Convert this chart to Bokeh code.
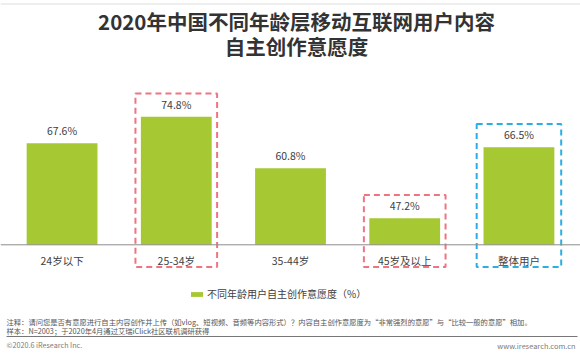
from bokeh.plotting import figure
from bokeh.models import (FactorRange, Range1d, Label, BoxAnnotation, Span,
                          ColumnDataSource, Legend, LegendItem)
from bokeh.core.properties import value
from bokeh.embed import file_html
from bokeh.resources import INLINE

# ---------------- data ----------------
categories = ["24岁以下", "25-34岁", "35-44岁", "45岁及以上", "整体用户"]
values = [67.6, 74.8, 60.8, 47.2, 66.5]
value_labels = ["67.6%", "74.8%", "60.8%", "47.2%", "66.5%"]
highlight_red = ["25-34岁", "45岁及以上"]
highlight_blue = ["整体用户"]
series_name = "不同年龄用户自主创作意愿度（%）"
title_lines = ["2020年中国不同年龄层移动互联网用户内容", "自主创作意愿度"]
note_lines = [
    "注释：请问您是否有意愿进行自主内容创作并上传（如vlog、短视频、音频等内容形式）？内容自主创作意愿度为“非常强烈的意愿”与“比较一般的意愿”相加。",
    "样本：N=2003；于2020年4月通过艾瑞iClick社区联机调研获得",
]
footer_left = "©2020.6 iResearch Inc."
footer_right = "www.iresearch.com.cn"

# ---------------- layout / style ----------------
W, H = 580, 355
FONT = "Noto Sans CJK SC"
GREEN = "#a6c832"
RED = "#ee7480"
BLUE = "#2daee2"
TXT = "#404040"
Y0 = 40.0          # value at the baseline
BASE_PX = 244.3    # baseline pixel row (from top)
SCALE = 3.68       # pixels per unit


def y_of_px(py):
    return Y0 - (py - BASE_PX) / SCALE


p = figure(width=W, height=H, output_backend="svg", toolbar_location=None,
           x_range=FactorRange(factors=categories, range_padding=0.039,
                               range_padding_units="absolute"),
           y_range=Range1d(y_of_px(H), y_of_px(0)),
           x_axis_location=None, y_axis_location=None,
           min_border=0, min_border_left=0, min_border_right=0,
           min_border_top=0, min_border_bottom=0)
p.title.visible = False
p.outline_line_color = None
p.xgrid.visible = False
p.ygrid.visible = False
p.background_fill_color = "white"
p.border_fill_color = "white"

src = ColumnDataSource(dict(cat=categories, val=values, lab=value_labels))

bars = p.vbar(x="cat", top="val", bottom=Y0, width=0.62, source=src,
              fill_color=GREEN, line_color=None)

# baseline
p.add_layout(Span(location=Y0, dimension="width", line_color="#8c8c8c",
                  line_width=1))

# data labels
p.text(x="cat", y="val", text="lab", source=src, y_offset=-12.7,
       text_align="center", text_baseline="middle",
       text_font=value(FONT), text_font_size="10.5px", text_color=TXT)

# category labels
p.text(x=categories, y=[y_of_px(259.5)] * len(categories), text=categories,
       text_align="center", text_baseline="middle",
       text_font=value(FONT), text_font_size="10.5px", text_color=TXT)

# dashed highlight boxes
box_bottom = y_of_px(266.5)
for cats, color, wdt in ((highlight_red, RED, 0.715), (highlight_blue, BLUE, 0.74)):
    tops = [values[categories.index(c)] + 6.3 for c in cats]
    p.rect(x=cats, y=[(t + box_bottom) / 2 for t in tops], width=wdt,
           height=[t - box_bottom for t in tops], fill_color=None,
           line_color=color, line_width=2, line_dash="6 4")

# legend
legend = Legend(items=[LegendItem(label=series_name, renderers=[bars])],
                location=(189, H - 301), orientation="horizontal",
                glyph_width=15, glyph_height=6, label_standoff=3,
                label_height=11, padding=0, margin=0, spacing=0,
                border_line_color=None, background_fill_alpha=0,
                label_text_font=FONT, label_text_font_size="10px",
                label_text_color=TXT)
p.add_layout(legend, "center")

# title
for line, py in zip(title_lines, (20.5, 45)):
    p.add_layout(Label(x=296, y=H - py, x_units="screen", y_units="screen",
                       text=line, text_align="center", text_baseline="middle",
                       text_font=FONT, text_font_size="20.5px",
                       text_font_style="bold", text_color="#333333"))

# top rule
p.add_layout(BoxAnnotation(left=0, right=W, bottom=H - 4, top=H - 3,
                           left_units="screen", right_units="screen",
                           bottom_units="screen", top_units="screen",
                           fill_color="#dddddd", fill_alpha=1, line_color=None))

# notes
for line, py in zip(note_lines, (321, 330.5)):
    p.add_layout(Label(x=6, y=H - py, x_units="screen", y_units="screen",
                       text=line, text_align="left", text_baseline="middle",
                       text_font=FONT, text_font_size="7.3px",
                       text_color="#555555"))

# separator
p.add_layout(BoxAnnotation(left=6, right=577, bottom=H - 336.5, top=H - 335.5,
                           left_units="screen", right_units="screen",
                           bottom_units="screen", top_units="screen",
                           fill_color="#777777", fill_alpha=1, line_color=None))

# footer
p.add_layout(Label(x=6, y=H - 344.5, x_units="screen", y_units="screen",
                   text=footer_left, text_align="left", text_baseline="middle",
                   text_font=FONT, text_font_size="7.2px", text_color="#7a7a7a"))
p.add_layout(Label(x=575, y=H - 344.5, x_units="screen", y_units="screen",
                   text=footer_right, text_align="right", text_baseline="middle",
                   text_font=FONT, text_font_size="7.4px", text_color="#7a7a7a"))

open("out.html", "w").write(file_html(p, INLINE))
